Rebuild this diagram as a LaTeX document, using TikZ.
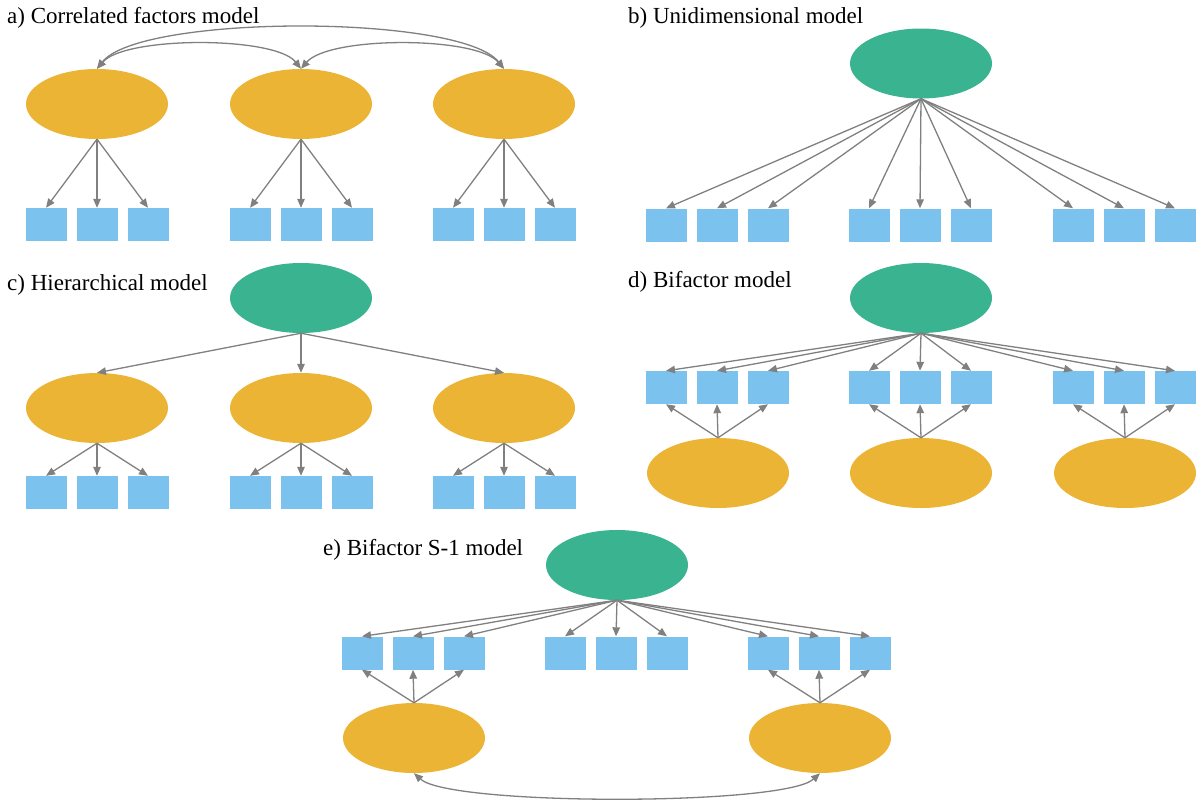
\documentclass[tikz,border=0pt]{standalone}
\usepackage{fontspec}
\setmainfont{Liberation Serif}
\usetikzlibrary{shapes.geometric,arrows.meta}
\definecolor{fo}{RGB}{236,180,53}
\definecolor{fg}{RGB}{57,179,144}
\definecolor{fb}{RGB}{123,195,238}
\definecolor{lg}{RGB}{128,128,128}
\begin{document}
\begin{tikzpicture}[x=1pt,y=-1pt,
  fac/.style={ellipse,fill=fo,minimum width=142pt,minimum height=70pt,inner sep=0pt},
  gen/.style={ellipse,fill=fg,minimum width=142pt,minimum height=70pt,inner sep=0pt},
  ind/.style={rectangle,fill=fb,minimum width=41pt,minimum height=33pt,inner sep=0pt},
  lnk/.style={draw=lg,line width=1.3pt,-{Triangle[length=9pt,width=7.5pt]}},
  cov/.style={draw=lg,line width=1.3pt,{Triangle[length=9pt,width=7.5pt]}-{Triangle[length=9pt,width=7.5pt]}},
  ttl/.style={anchor=base west,font=\fontsize{23}{28}\selectfont,inner sep=0pt}]
\useasboundingbox (0,0) rectangle (1197,801);

% ---------- a) Correlated factors model
\node[ttl] (ta) at (7,23) {a) Correlated factors model};
\foreach \i/\cx in {1/97,2/301,3/504} {
  \node[fac] (a\i) at (\cx,104) {};
  \foreach \j/\dx in {1/-51,2/0,3/51}
    \node[ind] (a\i\j) at (\cx+\dx,224.5) {};
  \foreach \j in {1,2,3}
    \draw[lnk] (a\i.south) -- (a\i\j.north);
}
\draw[cov] (a1.north) .. controls (125,36) and (275,36) .. (a2.north);
\draw[cov] (a2.north) .. controls (329,36) and (476,36) .. (a3.north);
\draw[cov] (a1.north) .. controls (140,14) and (461,14) .. (a3.north);

% ---------- b) Unidimensional model
\node[ttl] (tb) at (628,23) {b) Unidimensional model};
\node[gen] (b0) at (921,63.5) {};
\foreach \i/\cx in {1/717,2/920,3/1124} {
  \foreach \j/\dx in {1/-51,2/0,3/51} {
    \node[ind] (b\i\j) at (\cx+\dx,225) {};
    \draw[lnk] (b0.south) -- (b\i\j.north);
  }
}

% ---------- c) Hierarchical model
\node[ttl] (tc) at (7,290) {c) Hierarchical model};
\node[gen] (c0) at (301,298) {};
\foreach \i/\cx in {1/97,2/301,3/504} {
  \node[fac] (c\i) at (\cx,408) {};
  \draw[lnk] (c0.south) -- (c\i.north);
  \foreach \j/\dx in {1/-51,2/0,3/51} {
    \node[ind] (c\i\j) at (\cx+\dx,492.5) {};
    \draw[lnk] (c\i.south) -- (c\i\j.north);
  }
}

% ---------- d) Bifactor model
\node[ttl] (td) at (628,287) {d) Bifactor model};
\node[gen] (d0) at (921,298) {};
\foreach \i/\cx in {1/717,2/920,3/1124} {
  \node[fac] (d\i) at (\cx+1,473) {};
  \foreach \j/\dx in {1/-51,2/0,3/51} {
    \node[ind] (d\i\j) at (\cx+\dx,387.5) {};
    \draw[lnk] (d0.south) -- (d\i\j.north);
    \draw[lnk] (d\i.north) -- (d\i\j.south);
  }
}

% ---------- e) Bifactor S-1 model
\node[ttl] (te) at (323,555) {e) Bifactor S-1 model};
\node[gen] (e0) at (617,565) {};
\foreach \i/\cx in {1/413,2/616,3/819} {
  \foreach \j/\dx in {1/-51,2/0,3/51} {
    \node[ind] (e\i\j) at (\cx+\dx,653) {};
    \draw[lnk] (e0.south) -- (e\i\j.north);
  }
}
\node[fac] (e1) at (414,738) {};
\node[fac] (e3) at (820,738) {};
\foreach \j in {1,2,3} {
  \draw[lnk] (e1.north) -- (e1\j.south);
  \draw[lnk] (e3.north) -- (e3\j.south);
}
\draw[cov] (e1.south) .. controls (450,806) and (784,806) .. (e3.south);
\end{tikzpicture}
\end{document}
